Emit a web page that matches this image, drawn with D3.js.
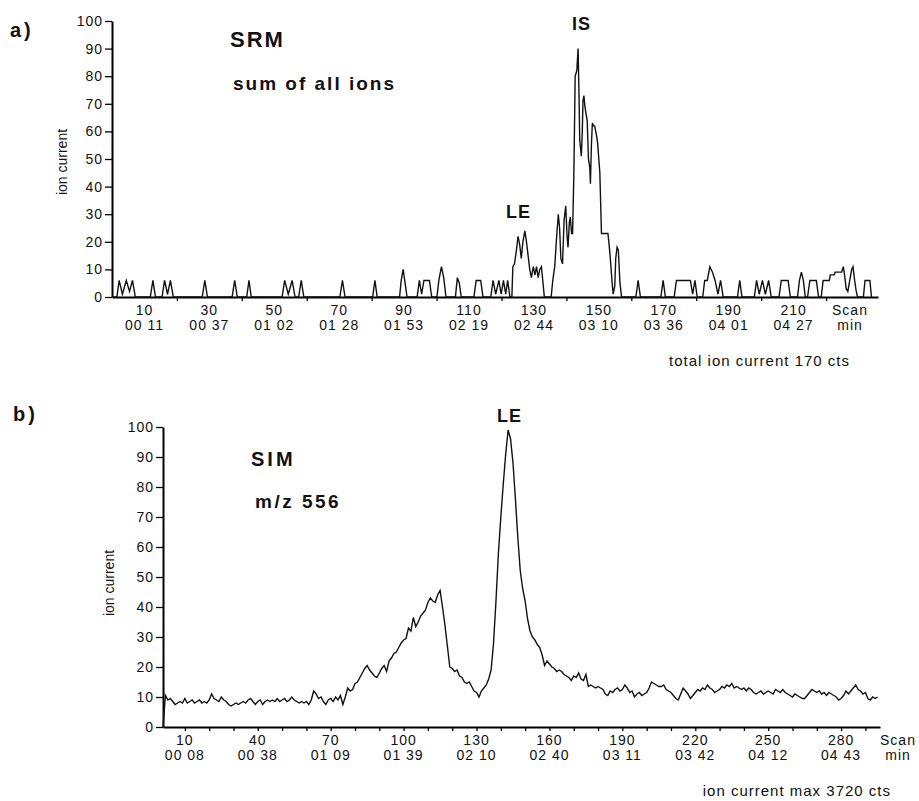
<!DOCTYPE html>
<html>
<head>
<meta charset="utf-8">
<script src="https://cdn.jsdelivr.net/npm/d3@7"></script>
<style>
  body { margin: 0; background: #fff; }
  svg { display: block; }
  .num { font-family: "Liberation Sans", Arial, sans-serif; font-size: 14px; letter-spacing: 1px; fill: #111; }
  .title { font-family: "Liberation Sans", Arial, sans-serif; font-weight: bold; fill: #111; }
  .ylab { font-family: "Liberation Sans", Arial, sans-serif; font-size: 14px; fill: #111; }
  .note { font-family: "Liberation Sans", Arial, sans-serif; font-size: 15px; letter-spacing: 1px; fill: #111; }
</style>
</head>
<body>
<svg id="chart" width="919" height="801"></svg>
<script>
// y ticks shared by both traces (relative ion current, %)
const yTicks = [0, 10, 20, 30, 40, 50, 60, 70, 80, 90, 100];

// a) SRM, sum of all ions: [scan, relative ion current]
const srmScanLabels = [10, 30, 50, 70, 90, 110, 130, 150, 170, 190, 210];
const srmTimeLabels = ["00 11", "00 37", "01 02", "01 28", "01 53", "02 19", "02 44", "03 10", "03 36", "04 01", "04 27"];
const srmMinorTicks = [20, 40, 60, 80, 100, 120, 140, 160, 180, 200, 220];
const srmTrace = [
  [0.5, 0], [1.5, 0], [2.2, 6], [3.2, 1], [4.4, 6], [5.4, 2], [6.3, 6], [7.2, 0],
  [11.8, 0], [12.6, 6], [13.4, 0],
  [15.4, 0], [16.2, 6], [17.1, 1], [18, 6], [18.9, 0],
  [27.8, 0], [28.6, 6], [29.4, 0],
  [37, 0], [37.8, 6], [38.6, 0],
  [41.5, 0], [42.2, 6], [42.9, 0],
  [52.4, 0], [53.2, 6], [54.3, 1], [55.5, 6], [56.4, 0], [57.5, 0], [58.3, 6], [59.1, 0],
  [70.2, 0], [71, 6], [71.8, 0],
  [80.3, 0], [81, 6], [81.7, 0],
  [88.6, 0], [89.1, 6], [89.7, 10], [90.3, 5], [90.9, 0],
  [94, 0], [94.7, 6], [95.4, 1], [96.1, 6], [97.8, 6], [98.5, 0],
  [100.1, 0], [100.7, 6], [101.5, 11], [102.2, 7], [102.9, 0],
  [105.8, 0], [106.4, 7], [107, 5], [107.6, 0],
  [111.5, 0], [112.2, 6], [113.6, 6], [114.3, 0],
  [116.7, 0], [117.4, 6], [118.2, 1], [119.2, 6], [119.9, 1], [120.6, 6], [121.3, 1], [121.9, 6], [122.6, 0],
  [123.2, 0], [123.5, 11], [124, 12], [124.6, 17], [125.1, 22], [125.6, 19], [126.1, 14], [126.6, 20],
  [127.2, 24], [127.7, 20], [128.2, 15], [128.7, 10], [129.2, 7], [129.8, 11], [130.3, 8], [130.8, 11],
  [131.3, 7], [131.8, 10], [132.3, 11], [132.8, 5], [133.2, 0],
  [135.3, 0], [135.8, 6], [136.4, 11], [137, 22], [137.5, 30], [137.9, 25], [138.3, 14], [138.8, 12],
  [139.3, 28], [139.8, 33], [140.2, 22], [140.5, 18], [140.9, 27], [141.2, 29], [141.6, 23], [141.9, 23],
  [142.3, 45], [142.7, 80], [143.2, 82], [143.6, 90], [143.9, 72], [144.1, 57], [144.6, 51], [144.9, 60],
  [145.1, 71], [145.4, 73], [145.7, 69], [146.1, 66], [146.4, 64], [146.8, 50], [147.2, 47], [147.4, 41],
  [147.7, 55], [148, 63], [148.4, 62], [148.7, 62], [149.2, 59], [149.6, 56], [150.3, 45], [150.8, 23],
  [152.8, 23], [153.4, 16], [154.1, 5], [154.4, 1], [154.9, 4], [155.2, 14], [155.6, 18], [156, 17],
  [156.5, 5], [157, 0],
  [161.4, 0], [162.1, 6], [162.8, 0],
  [169.1, 0], [169.8, 6], [170.5, 0],
  [173.2, 0], [173.9, 6], [178.2, 6], [178.9, 1], [179.6, 6], [180.3, 0],
  [182, 0], [182.6, 6], [183.4, 6], [184.2, 11], [185, 9], [185.8, 6], [186.7, 1], [187.5, 6], [188.3, 0],
  [192.7, 0], [193.4, 6], [194.1, 0],
  [197.9, 0], [198.6, 6], [199.4, 1], [200.4, 6], [201.3, 1], [202.3, 6], [203.1, 0],
  [205.5, 0], [206.2, 6], [208.3, 6], [209, 0],
  [211.2, 0], [211.8, 6], [212.4, 9], [213, 6], [213.6, 0],
  [214.3, 0], [215, 6], [217, 6], [217.7, 0],
  [218.5, 0], [219.1, 6], [221, 6], [221.3, 8], [222.5, 8], [222.8, 9], [224.8, 9], [225.3, 11],
  [225.7, 8], [226.2, 3], [226.7, 2], [227.3, 6], [227.9, 10], [228.3, 11], [228.8, 6], [229.3, 2], [229.7, 0],
  [231.5, 0], [232, 6], [233.5, 6], [234, 0]
];

// b) SIM m/z 556: one value per scan, starting at scan 1
const simScanLabels = [10, 40, 70, 100, 130, 160, 190, 220, 250, 280];
const simTimeLabels = ["00 08", "00 38", "01 09", "01 39", "02 10", "02 40", "03 11", "03 42", "04 12", "04 43"];
const simMinorTicks = d3.range(10, 300, 10);
const simCurrent = [
  0, 10.5, 9, 9.5, 8.5, 7.5, 8, 8.5, 8, 9.5,
  8, 8.5, 9, 8, 8.5, 9, 8, 8.5, 8, 9,
  11, 9.5, 9, 8.5, 10, 9, 8.5, 7.5, 7, 7.5,
  8, 7.5, 8, 8.5, 8, 9, 9.5, 8.5, 7.5, 8.5,
  9, 7.5, 8.5, 9, 8.5, 9, 8.5, 9.5, 8.5, 9,
  9.5, 8.5, 9, 10, 9, 8.5, 8, 8.5, 8, 8.5,
  7.5, 9, 12, 11, 9.5, 10, 8.5, 7.5, 9, 9.5,
  8.5, 10, 9, 10.5, 7.5, 10, 13, 12, 12.5, 14.5,
  15, 16.5, 18, 19.5, 20.5, 19, 18, 17, 16.5, 18,
  19.5, 20.5, 18.5, 22, 23, 24.5, 25, 26.5, 28, 29,
  29.5, 33, 32, 36.5, 33.5, 35, 37, 38, 39, 41.5,
  43, 42, 41.5, 44, 45.5, 40, 34, 27, 20, 19.5,
  18.5, 19, 17, 16.5, 15, 14.5, 15, 13.5, 12, 11.5,
  10, 12, 13, 14, 16, 19, 28, 42, 58, 70,
  81, 91, 99, 96, 88, 76, 63, 52, 46, 42,
  36, 32, 30, 29, 27.5, 26.5, 24, 20.5, 22, 21,
  20, 19.5, 18.5, 19, 18.5, 17.5, 17, 16.5, 15.5, 17,
  16.5, 18, 16, 15.5, 17.5, 13.5, 14, 13.5, 13, 13.5,
  13, 12.5, 11, 10.5, 12, 11.5, 12.5, 13, 12, 12.5,
  14, 13, 11.5, 12, 10, 11, 11.5, 10.5, 11, 11.5,
  13, 15, 14.5, 14, 13.5, 13.5, 14, 12.5, 12, 11.5,
  10.5, 9.5, 9, 11, 13, 12, 11, 9.5, 10.5, 11.5,
  12.5, 12, 13, 12.5, 14, 13, 12.5, 11.5, 12, 12.5,
  13.5, 13, 14, 13.5, 14.5, 13, 13.5, 13, 12.5, 13,
  12, 13, 12.5, 11.5, 11, 11.5, 12, 11, 11.5, 12,
  11.5, 11, 12.5, 12, 11.5, 12.5, 11.5, 11, 10.5, 10,
  11, 10.5, 10, 9.5, 9.5, 10.5, 11.5, 12.5, 12, 11.5,
  12, 11, 11.5, 10.5, 11.5, 11, 10.5, 10, 9, 9.5,
  10.5, 12, 11, 12, 13, 14, 12.5, 12, 11, 11.5,
  9.5, 9, 10, 9.5, 10
];

const svg = d3.select("#chart");

function drawPanel(p) {
  const x = d3.scaleLinear().domain(p.xDomain).range(p.xRange);
  const y = d3.scaleLinear().domain([0, 100]).range(p.yRange);
  const g = svg.append("g");
  const axisY = p.yRange[0];

  // y axis
  const yAxis = g.append("g")
    .attr("transform", `translate(${p.xRange[0]},0)`)
    .call(d3.axisLeft(y).tickValues(yTicks).tickSize(7).tickSizeOuter(0).tickPadding(2));
  yAxis.select(".domain").attr("stroke-width", 2);
  yAxis.selectAll(".tick line").attr("stroke-width", 1.3);
  yAxis.selectAll(".tick text").attr("class", "num");
  yAxis.attr("font-family", null).attr("font-size", null);

  // x axis line with small ticks, labels drawn below as two rows
  const xAxis = g.append("g")
    .attr("transform", `translate(0,${axisY})`)
    .call(d3.axisBottom(x).tickValues(p.minorTicks).tickSize(4).tickSizeOuter(0).tickFormat(""));
  xAxis.select(".domain").attr("stroke-width", 2);
  xAxis.selectAll(".tick line").attr("stroke-width", 1.3);

  g.selectAll(".scanlab").data(p.scanLabels).join("text")
    .attr("class", "num")
    .attr("x", d => x(d)).attr("y", axisY + 18)
    .attr("text-anchor", "middle")
    .text(d => d);
  g.selectAll(".timelab").data(p.timeLabels).join("text")
    .attr("class", "num")
    .attr("x", (d, i) => x(p.scanLabels[i])).attr("y", axisY + 33)
    .attr("text-anchor", "middle")
    .text(d => d);
  g.append("text").attr("class", "num").attr("x", p.unitX).attr("y", axisY + 18)
    .attr("text-anchor", "middle").text("Scan");
  g.append("text").attr("class", "num").attr("x", p.unitX).attr("y", axisY + 33)
    .attr("text-anchor", "middle").text("min");

  // trace
  const line = d3.line().x(d => x(d[0])).y(d => y(d[1]));
  g.append("path")
    .datum(p.trace)
    .attr("d", line)
    .attr("fill", "none")
    .attr("stroke", "#111")
    .attr("stroke-width", 1.4)
    .attr("stroke-linejoin", "miter");

  g.append("text").attr("class", "ylab")
    .attr("transform", `translate(${p.yLabelX},${p.yLabelY}) rotate(-90)`)
    .attr("text-anchor", "middle")
    .text("ion current");
  return { x, y, g };
}

const srmPanel = drawPanel({
  xDomain: [0, 236], xRange: [112, 878], yRange: [297, 21],
  minorTicks: srmMinorTicks, scanLabels: srmScanLabels, timeLabels: srmTimeLabels,
  trace: srmTrace, unitX: 850, yLabelX: 67, yLabelY: 162
});

const simPanel = drawPanel({
  xDomain: [1, 296], xRange: [163, 880], yRange: [727, 427],
  minorTicks: simMinorTicks, scanLabels: simScanLabels, timeLabels: simTimeLabels,
  trace: simCurrent.map((v, i) => [i + 1, v]), unitX: 898, yLabelX: 114, yLabelY: 583
});

// panel titles and peak labels
const titles = [
  { t: "a)", x: 10, y: 37, s: 20, ls: 3 },
  { t: "SRM", x: 230, y: 47, s: 22, ls: 2 },
  { t: "sum of all ions", x: 233, y: 90, s: 19, ls: 2 },
  { t: "IS", x: 572, y: 30, s: 18, ls: 1 },
  { t: "LE", x: 506, y: 218, s: 18, ls: 1 },
  { t: "b)", x: 13, y: 421, s: 20, ls: 3 },
  { t: "SIM", x: 251, y: 466, s: 20, ls: 3 },
  { t: "m/z 556", x: 255, y: 508, s: 19, ls: 2.5 },
  { t: "LE", x: 497, y: 422, s: 18, ls: 1 }
];
svg.selectAll(".title").data(titles).join("text")
  .attr("class", "title")
  .attr("x", d => d.x).attr("y", d => d.y)
  .attr("font-size", d => d.s)
  .attr("letter-spacing", d => d.ls)
  .text(d => d.t);

svg.append("text").attr("class", "note").attr("x", 850).attr("y", 366)
  .attr("text-anchor", "end").text("total ion current  170 cts");
svg.append("text").attr("class", "note").attr("x", 891).attr("y", 796)
  .attr("text-anchor", "end").text("ion current max  3720 cts");
</script>
</body>
</html>
